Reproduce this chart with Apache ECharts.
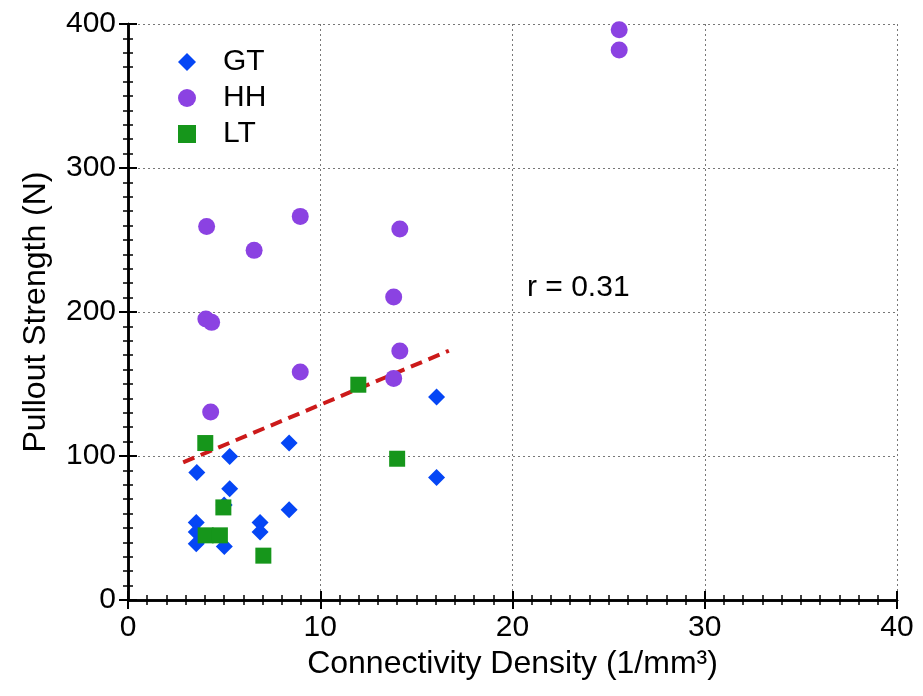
<!DOCTYPE html>
<html><head><meta charset="utf-8">
<script src="https://cdn.jsdelivr.net/npm/echarts@6/dist/echarts.min.js"></script>
<style>html,body{margin:0;padding:0;background:#fff}#c{width:923px;height:696px}</style>
</head><body><div id="c"></div>
<script>
// Data
const gtX = [3.55, 3.55, 3.55, 3.58, 5.29, 5.29, 5.0, 5.01, 6.87, 6.87, 8.38, 8.38, 16.05, 16.05];
const gtY = [53.9, 47.2, 39.1, 88.6, 99.7, 77.3, 66, 37.2, 53.9, 47.2, 109, 62.7, 141, 85.1];
const hhX = [4.30, 4.09, 8.96, 6.56, 14.14, 13.82, 4.05, 4.35, 14.14, 8.96, 13.82, 25.55, 25.55];
const hhY = [130.6, 259.4, 266.4, 242.8, 257.6, 210.4, 195.1, 192.8, 172.9, 158.3, 153.9, 396, 382];
const ltX = [4.02, 4.96, 4.04, 4.78, 7.04, 14.0, 11.98];
const ltY = [109, 64.3, 44.9, 44.9, 30.8, 98.1, 149.5];
const fitX = [2.87, 16.69];
const fitY = [95.6, 173.1];
const xTicks = [0, 10, 20, 30, 40];
const yTicks = [0, 100, 200, 300, 400];
const rText = "r = 0.31";

const zip = (a, b) => a.map((v, i) => [v, b[i]]);
const FONT = "Liberation Sans, Arial, sans-serif";
const chart = echarts.init(document.getElementById('c'));
const axisCommon = {
  axisLine: {lineStyle: {color: '#000', width: 2.5}},
  axisTick: {inside: true, length: 9, lineStyle: {color: '#000', width: 2}},
  minorTick: {show: true, splitNumber: 10, length: 5, lineStyle: {color: '#000', width: 1.5}},
};
chart.setOption({
  animation: false,
  backgroundColor: '#fff',
  grid: {left: 128, right: 26, top: 24, bottom: 96, containLabel: false},
  legend: {
    orient: 'vertical', left: 173, top: 42, itemGap: 6,
    itemWidth: 18, itemHeight: 18,
    textStyle: {fontFamily: FONT, fontSize: 30, color: '#000', padding: [0, 0, 0, 22]},
    data: [
      {name: 'GT', icon: 'diamond'},
      {name: 'HH', icon: 'circle'},
      {name: 'LT', icon: 'rect'}
    ]
  },
  xAxis: [
    Object.assign({
      type: 'value', min: xTicks[0], max: xTicks[xTicks.length - 1], interval: 10,
      name: 'Connectivity Density (1/mm³)', nameLocation: 'middle', nameGap: 48,
      nameTextStyle: {fontFamily: FONT, fontSize: 32, color: '#000'},
      axisLabel: {fontFamily: FONT, fontSize: 30, color: '#000', margin: 13},
      splitLine: {show: true, lineStyle: {color: '#777', type: [2, 3], width: 1}}
    }, axisCommon),
    Object.assign({
      type: 'value', position: 'top', min: 0, max: 40, interval: 10,
      axisLabel: {show: false}, splitLine: {show: false}
    }, axisCommon)
  ],
  yAxis: [
    Object.assign({
      type: 'value', min: yTicks[0], max: yTicks[yTicks.length - 1], interval: 100,
      name: 'Pullout Strength (N)', nameLocation: 'middle', nameGap: 76,
      nameTextStyle: {fontFamily: FONT, fontSize: 32, color: '#000'},
      axisLabel: {fontFamily: FONT, fontSize: 30, color: '#000', margin: 12},
      splitLine: {show: true, lineStyle: {color: '#777', type: [2, 3], width: 1}}
    }, axisCommon),
    Object.assign({
      type: 'value', position: 'right', min: 0, max: 400, interval: 100,
      axisLabel: {show: false}, splitLine: {show: false}
    }, axisCommon)
  ],
  series: [
    {name: 'fit', type: 'line', data: zip(fitX, fitY), symbol: 'none', silent: true,
     lineStyle: {color: '#cc1a1a', width: 4, type: [12, 7]}, z: 1},
    {name: 'GT', type: 'scatter', data: zip(gtX, gtY), symbol: 'diamond', symbolSize: 17, clip: false,
     itemStyle: {color: '#0546f5', opacity: 1}, z: 3},
    {name: 'HH', type: 'scatter', data: zip(hhX, hhY), symbol: 'circle', symbolSize: 17, clip: false,
     itemStyle: {color: '#8b42e2', opacity: 1}, z: 2},
    {name: 'LT', type: 'scatter', data: zip(ltX, ltY), symbol: 'rect', symbolSize: 16, clip: false,
     itemStyle: {color: '#16961b', opacity: 1}, z: 4}
  ],
  graphic: [{
    type: 'text', left: 527, top: 273,
    style: {text: rText, fontFamily: FONT, fontSize: 30, fill: '#000'}
  }]
});
</script></body></html>
